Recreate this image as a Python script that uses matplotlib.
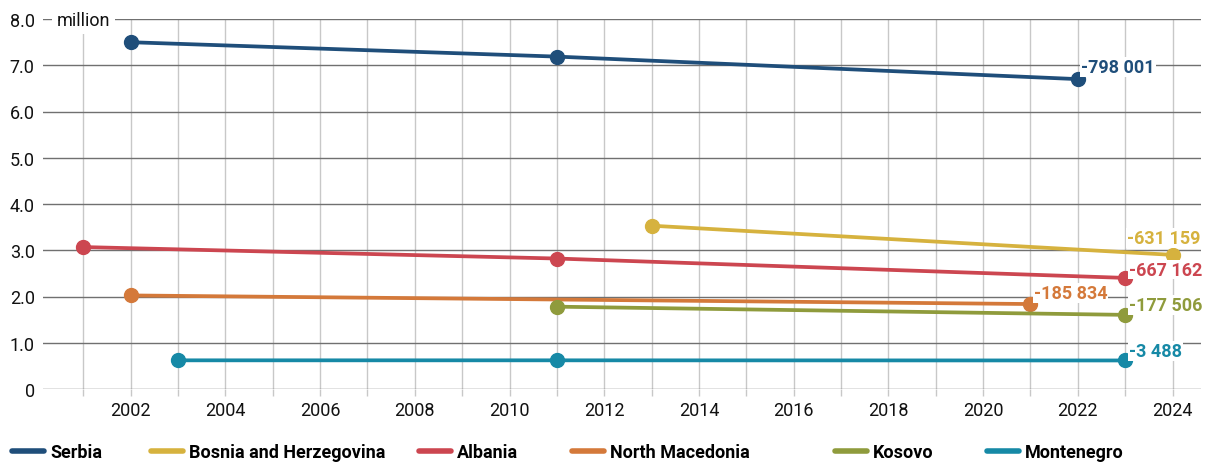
import matplotlib
matplotlib.use("Agg")
import matplotlib.pyplot as plt
from matplotlib.lines import Line2D
from matplotlib.ticker import MultipleLocator

plt.rcParams["font.family"] = ["Roboto", "DejaVu Sans"]

# population, million
countries = ["Serbia", "Bosnia and Herzegovina", "Albania",
             "North Macedonia", "Kosovo", "Montenegro"]
colors = ["#1f4e7a", "#d6b23e", "#cc4650", "#d4793a", "#8f9b3c", "#1689a6"]

serbia_years = [2002, 2011, 2022]
serbia_pop = [7.498, 7.187, 6.700]
bosnia_years = [2013, 2024]
bosnia_pop = [3.531, 2.900]
albania_years = [2001, 2011, 2023]
albania_pop = [3.069, 2.821, 2.402]
macedonia_years = [2002, 2021]
macedonia_pop = [2.023, 1.837]
kosovo_years = [2011, 2023]
kosovo_pop = [1.780, 1.603]
montenegro_years = [2003, 2011, 2023]
montenegro_pop = [0.620, 0.620, 0.617]

changes = ["-798 001", "-631 159", "-667 162", "-185 834", "-177 506", "-3 488"]
# label offsets from last point, in points
label_offsets = [(2.5, 8.5), (-33, 12), (2.5, 6), (2.5, 8), (2.5, 7), (2.5, 7)]

series = [(serbia_years, serbia_pop), (bosnia_years, bosnia_pop),
          (albania_years, albania_pop), (macedonia_years, macedonia_pop),
          (kosovo_years, kosovo_pop), (montenegro_years, montenegro_pop)]

W, H = 1205, 464
fig = plt.figure(figsize=(W / 100, H / 100), dpi=100)
ax = fig.add_axes([43 / W, 1 - 390 / H, (1201 - 43) / W, (390 - 20) / H])

for (years, pop), name, color, change, off in zip(series, countries, colors,
                                                   changes, label_offsets):
    ax.plot(years, pop, color=color, lw=2.7, marker="o", ms=10,
            solid_capstyle="round", zorder=3, clip_on=False)
    ax.annotate(change, xy=(years[-1], pop[-1]), xytext=off,
                textcoords="offset points", ha="left", va="center",
                color=color, fontsize=13, fontweight="bold", zorder=4,
                bbox=dict(boxstyle="square,pad=0.05", fc="white", ec="none"))

ax.set_xlim(2000.15, 2024.6)
ax.set_ylim(0, 8)
ax.xaxis.set_major_locator(MultipleLocator(2))
ax.xaxis.set_minor_locator(MultipleLocator(1))
ax.set_yticks(range(0, 9), ["0"] + [f"{v:.1f}" for v in range(1, 9)])
ax.grid(axis="x", which="both", color="#c8c8c8", lw=1, zorder=0)
ax.grid(axis="y", which="major", color="#707070", lw=1, zorder=1)
for s in ax.spines.values():
    s.set_visible(False)
ax.tick_params(axis="x", which="both", length=5, color="#c8c8c8",
               width=1, labelsize=13, pad=4, labelcolor="#111111")
ax.tick_params(axis="x", which="minor", labelbottom=False)
ax.tick_params(axis="y", length=0, labelsize=13, pad=6, labelcolor="#111111")

fig.text(57 / W, 1 - 21 / H, "million", fontsize=13, ha="left", va="center",
         color="#111111",
         bbox=dict(boxstyle="square,pad=0.25", fc="white", ec="none"))

# legend entries laid out along the bottom
legend_x = [12, 151, 419, 572, 835, 987]
for name, color, x in zip(countries, colors, legend_x):
    h = Line2D([], [], color=color, lw=4, solid_capstyle="round")
    fig.legend(handles=[h], labels=[name], loc="center left",
               bbox_to_anchor=(x / W, 1 - 453 / H), frameon=False,
               handlelength=1.75, handletextpad=0.35, borderpad=0,
               borderaxespad=0,
               prop={"size": 13, "weight": "bold"})

fig.savefig("out.png", dpi=100)
